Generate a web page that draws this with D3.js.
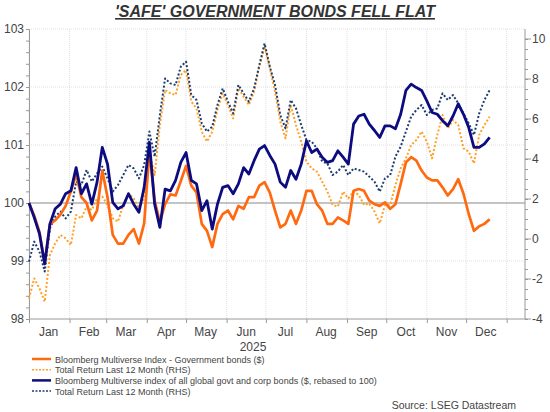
<!DOCTYPE html>
<html>
<head>
<meta charset="utf-8">
<script src="https://cdn.jsdelivr.net/npm/d3@7"></script>
<style>
body { margin: 0; background: #fff; }
text { font-family: "Liberation Sans", Arial, sans-serif; }
</style>
</head>
<body>
<svg id="chart" width="550" height="412"></svg>
<script>
// one point every 4 days from 1 Jan 2025
var startDate = new Date(2025, 0, 1);
var stepDays = 4;

// Bloomberg Multiverse Index - Government bonds ($), LHS
var govBonds = [100.0, 99.78, 99.5, 98.95, 99.64, 99.7, 99.8, 99.95, 100.2, 100.5,
    100.1, 100.0, 99.7, 99.87, 100.56, 100.1, 99.45, 99.3, 99.3, 99.45,
    99.55, 99.3, 99.65, 100.9, 100.04, 99.67, 99.98, 100.15, 100.13, 100.38,
    100.64, 100.3, 100.18, 99.64, 99.52, 99.24, 99.64, 99.81, 99.87, 99.72,
    99.95, 99.9, 100.1, 100.1, 100.3, 100.36, 100.18, 99.87, 99.58, 99.64,
    99.87, 99.64, 99.87, 100.21, 100.21, 99.98, 99.87, 99.64, 99.64, 99.75,
    99.7, 99.64, 100.21, 100.24, 100.21, 100.04, 99.98, 99.95, 100.01, 99.9,
    99.98, 100.33, 100.7, 100.79, 100.73, 100.56, 100.44, 100.39, 100.39, 100.27,
    100.13, 100.24, 100.41, 100.16, 99.81, 99.52, 99.6, 99.64, 99.72];

// Total return last 12 months of the government index (%), RHS
var govReturn = [-2.97, -1.97, -2.47, -3.13, -0.8, -0.22, 0.2, 0.03, -0.3, 1.2,
    1.03, 1.62, 1.45, 2.03, 2.12, 1.7, 1.03, 0.87, 1.7, 2.28,
    2.03, 1.53, 2.03, 4.37, 3.2, 5.7, 7.45, 7.28, 7.2, 8.2,
    8.45, 6.87, 6.53, 5.37, 4.87, 5.37, 6.45, 7.28, 6.7, 6.03,
    7.53, 7.12, 6.7, 7.37, 8.62, 9.62, 8.53, 7.37, 5.87, 5.03,
    6.7, 5.7, 4.87, 3.87, 3.53, 3.37, 2.87, 2.37, 1.7, 1.62,
    2.37, 2.03, 2.37, 2.2, 1.7, 1.78, 1.37, 0.78, 1.7, 1.7,
    2.7, 3.53, 4.03, 4.7, 4.95, 5.37, 4.87, 4.03, 5.2, 6.2,
    5.53, 5.95, 5.7, 4.53, 4.37, 3.78, 5.2, 5.7, 6.12];

// Bloomberg Multiverse index of all global govt and corp bonds ($, rebased to 100), LHS
var allBonds = [100.0, 99.75, 99.47, 98.95, 99.64, 99.9, 99.98, 100.16, 100.21, 100.61,
    100.16, 100.33, 99.98, 100.36, 100.96, 100.67, 100.01, 99.9, 99.95, 100.16,
    99.98, 99.84, 100.27, 101.05, 99.98, 99.58, 100.24, 100.21, 100.39, 100.7,
    100.87, 100.39, 100.33, 99.87, 100.04, 99.55, 99.98, 100.27, 100.3, 100.16,
    100.33, 100.61, 100.5, 100.73, 100.93, 100.99, 100.82, 100.67, 100.36, 100.27,
    100.56, 100.41, 100.67, 101.07, 100.87, 100.93, 100.79, 100.7, 100.73, 100.9,
    100.79, 100.67, 101.36, 101.5, 101.53, 101.36, 101.25, 101.13, 101.33, 101.33,
    101.28, 101.53, 101.94, 102.05, 101.99, 101.94, 101.76, 101.56, 101.53, 101.42,
    101.33, 101.5, 101.71, 101.53, 101.3, 100.96, 100.96, 101.02, 101.13];

// Total return last 12 months of the all bonds index (%), RHS
var allReturn = [-1.13, -0.13, -0.63, -1.63, 0.53, 1.12, 1.37, 1.03, 1.37, 2.87,
    2.7, 3.45, 2.87, 3.28, 3.62, 3.03, 2.37, 2.7, 3.2, 3.7,
    3.53, 3.03, 3.7, 5.37, 4.12, 6.2, 8.03, 7.78, 7.7, 8.62,
    8.87, 7.2, 6.95, 5.78, 5.37, 5.62, 6.7, 7.53, 6.87, 6.28,
    7.7, 7.28, 6.87, 7.53, 8.7, 9.78, 8.62, 7.7, 6.2, 5.53,
    6.95, 6.53, 5.7, 4.95, 4.87, 4.53, 3.87, 3.78, 3.2, 3.37,
    3.7, 3.2, 3.53, 3.45, 3.37, 3.12, 2.87, 2.37, 3.03, 3.2,
    4.12, 4.62, 5.37, 6.12, 6.45, 6.7, 6.2, 6.45, 6.53, 7.28,
    6.95, 7.2, 6.78, 6.28, 5.78, 5.2, 6.28, 6.95, 7.45];

var leftTicks = [98, 99, 100, 101, 102, 103];
var rightTicks = [-4, -2, 0, 2, 4, 6, 8, 10];
var monthNames = ["Jan", "Feb", "Mar", "Apr", "May", "Jun", "Jul", "Aug", "Sep", "Oct", "Nov", "Dec"];
var legendLabels = ["Bloomberg Multiverse Index - Government bonds ($)",
    "Total Return Last 12 Month (RHS)",
    "Bloomberg Multiverse index of all global govt and corp bonds ($, rebased to 100)",
    "Total Return Last 12 Month (RHS)"];

var ORANGE = "#ff6a10";
var ORANGE_DOT = "#ffa028";
var NAVY = "#0c0c80";
var NAVY_DOT = "#1c3c70";

function drawChart()
{
    var svg = d3.select("#chart");
    var left = 29, right = 525, top = 29, bottom = 319;

    var dates = govBonds.map(function(v, i){ return d3.timeDay.offset(startDate, i * stepDays); });

    var x = d3.scaleTime()
        .domain([new Date(2025, 0, 1), new Date(2026, 0, 15)])
        .range([left, right]);
    var yL = d3.scaleLinear().domain([98, 103]).range([bottom, top]);
    var yR = d3.scaleLinear().domain([-4, 10.5]).range([bottom, top]);

    var monthStarts = d3.timeMonth.range(new Date(2025, 0, 1), new Date(2026, 0, 2));

    // title
    svg.append("text")
        .attr("x", 275).attr("y", 17)
        .attr("text-anchor", "middle")
        .style("font-size", "16px").style("font-weight", "bold").style("font-style", "italic")
        .style("text-decoration", "underline")
        .attr("fill", "#333")
        .text("'SAFE' GOVERNMENT BONDS FELL FLAT");

    // grid
    var grid = svg.append("g");
    monthStarts.forEach(function(m){
        grid.append("line")
            .attr("x1", x(m)).attr("x2", x(m)).attr("y1", top).attr("y2", bottom)
            .attr("stroke", "#d8d8d8").attr("stroke-width", 0.8).attr("stroke-dasharray", "1,1");
    });
    leftTicks.forEach(function(t){
        if (t == 98 || t == 100) return;
        grid.append("line")
            .attr("x1", left).attr("x2", right).attr("y1", yL(t)).attr("y2", yL(t))
            .attr("stroke", "#d8d8d8").attr("stroke-width", 0.8).attr("stroke-dasharray", "1,1");
    });
    grid.append("line")
        .attr("x1", left).attr("x2", right).attr("y1", yL(100)).attr("y2", yL(100))
        .attr("stroke", "#8a8a8a").attr("stroke-width", 1.2);

    // left axis
    var leftAxis = svg.append("g").attr("transform", "translate(" + left + ",0)")
        .call(d3.axisLeft(yL).tickValues(d3.range(98, 103.01, 0.2)).tickSize(3).tickFormat(""));
    leftAxis.selectAll("path, line").attr("stroke", "#999");
    leftTicks.forEach(function(t){
        svg.append("text")
            .attr("x", 24).attr("y", yL(t) + 4)
            .attr("text-anchor", "end")
            .style("font-size", "12px").attr("fill", "#444")
            .text(t);
    });

    // right axis
    var rightAxis = svg.append("g").attr("transform", "translate(" + right + ",0)")
        .call(d3.axisRight(yR).tickValues(d3.range(-4, 10.01, 0.5)).tickSize(3).tickFormat(""));
    rightAxis.selectAll("path, line").attr("stroke", "#999");
    rightAxis.select(".domain").attr("d", "M0," + top + "V" + bottom);
    rightTicks.forEach(function(t){
        svg.append("line")
            .attr("x1", right).attr("x2", right + 6).attr("y1", yR(t)).attr("y2", yR(t))
            .attr("stroke", "#999");
        svg.append("text")
            .attr("x", right + 7).attr("y", yR(t) + 4)
            .style("font-size", "12px").attr("fill", "#444")
            .text(t);
    });

    // x axis
    var xAxis = svg.append("g").attr("transform", "translate(0," + bottom + ")")
        .call(d3.axisBottom(x).tickValues(monthStarts).tickSize(4).tickFormat(""));
    xAxis.selectAll("path, line").attr("stroke", "#999");
    xAxis.select(".domain").attr("d", "M" + left + ",0H" + right);
    monthNames.forEach(function(name, i){
        var mid = new Date(2025, i, 16);
        svg.append("text")
            .attr("x", x(mid)).attr("y", 336)
            .attr("text-anchor", "middle")
            .style("font-size", "12px").attr("fill", "#444")
            .text(name);
    });
    svg.append("text")
        .attr("x", 253).attr("y", 351)
        .attr("text-anchor", "middle")
        .style("font-size", "12px").attr("fill", "#444")
        .text("2025");

    // series
    var lineL = d3.line().x(function(d, i){ return x(dates[i]); }).y(function(d){ return yL(d); });
    var lineR = d3.line().x(function(d, i){ return x(dates[i]); }).y(function(d){ return yR(d); });

    var series = [
        {data: govReturn, line: lineR, color: ORANGE_DOT, width: 2, dash: "2,2"},
        {data: allReturn, line: lineR, color: NAVY_DOT, width: 2, dash: "2,2"},
        {data: govBonds, line: lineL, color: ORANGE, width: 2.7, dash: null},
        {data: allBonds, line: lineL, color: NAVY, width: 2.8, dash: null}
    ];
    series.forEach(function(s){
        svg.append("path")
            .attr("d", s.line(s.data))
            .attr("fill", "none")
            .attr("stroke", s.color)
            .attr("stroke-width", s.width)
            .attr("stroke-linejoin", "round")
            .attr("stroke-dasharray", s.dash);
    });

    // legend
    var legendColors = [ORANGE, ORANGE_DOT, NAVY, NAVY_DOT];
    var legendDash = [null, "2,1.5", null, "2,1.5"];
    legendLabels.forEach(function(label, i){
        var ly = 359 + i * 10.7;
        svg.append("line")
            .attr("x1", 32).attr("x2", 51).attr("y1", ly).attr("y2", ly)
            .attr("stroke", legendColors[i])
            .attr("stroke-width", legendDash[i] ? 1.5 : 2.5)
            .attr("stroke-dasharray", legendDash[i]);
        svg.append("text")
            .attr("x", 55).attr("y", ly + 3.5)
            .style("font-size", "9px").attr("fill", "#444")
            .text(label);
    });

    svg.append("text")
        .attr("x", 516).attr("y", 409)
        .attr("text-anchor", "end")
        .style("font-size", "10.5px").attr("fill", "#444")
        .text("Source: LSEG Datastream");
}

drawChart();
</script>
</body>
</html>
